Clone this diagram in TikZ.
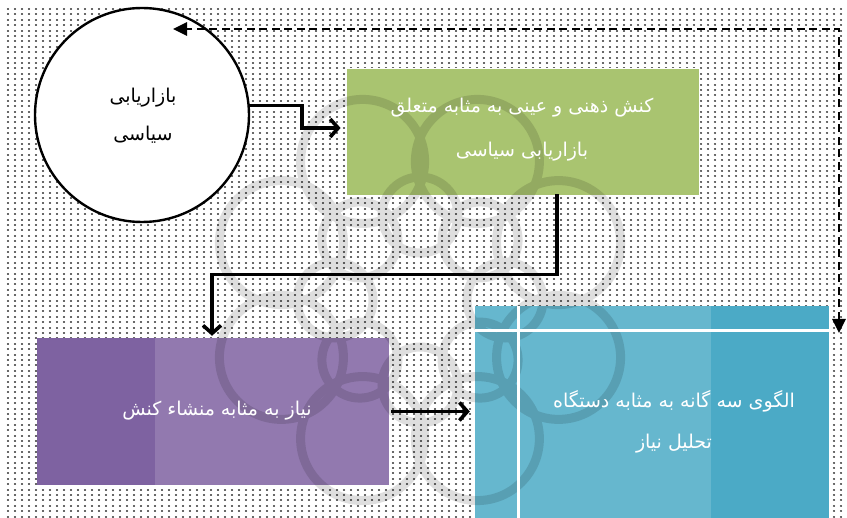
\documentclass[tikz,border=0pt]{standalone}
\usepackage{fontspec}
\newfontfamily\fa[Script=Arabic]{DejaVu Sans}
\TeXXeTstate=1
\usetikzlibrary{arrows.meta}
\definecolor{grn}{HTML}{A9C470}
\definecolor{purD}{HTML}{7E62A1}
\definecolor{purL}{HTML}{9279AF}
\definecolor{bluL}{HTML}{66B7CE}
\definecolor{bluD}{HTML}{4BAAC6}
\pgfdeclarelayer{fg}
\pgfsetlayers{main,fg}
\begin{document}
\begin{tikzpicture}[x=1pt,y=-1pt,
  box/.style={rectangle, inner sep=0pt, text=white, align=center},
  arr/.style={line width=3.6pt, black, -{Straight Barb[length=8pt,width=18pt]}, line cap=rect},
  fbarr/.style={line width=2.8pt, black, dash pattern=on 8pt off 4.5pt, {Triangle[length=14pt,width=13pt]}-{Triangle[length=14pt,width=13pt]}},
  wm/.style={line width=9pt, black},
  dotrow/.style={black!80, line width=2.1pt, line cap=round, dash pattern=on 0.01pt off 6.99pt}
]
\useasboundingbox (0,0) rectangle (847,518);
\fill[white] (0,0) rectangle (847,518);
\foreach \j in {0,...,94}
  \draw[dotrow] (8, 9+5.4*\j) -- (847, 9+5.4*\j);

% boxes
\node[box, fill=grn, draw=white, line width=0.8pt, minimum width=353pt, minimum height=127pt] (act) at (522.5,131.5) {};
\node[box, fill=purL, minimum width=352pt, minimum height=147pt] (need) at (213,411.5) {};
\fill[purD] (need.north west) rectangle ([xshift=118pt]need.south west);
\node[box, fill=bluL, minimum width=354pt, minimum height=212pt] (model) at (652,412) {};
\fill[bluD] ([xshift=-118pt]model.north east) rectangle (model.south east);

% circle
\node[circle, draw=black, line width=2.4pt, fill=white, minimum size=214pt, inner sep=0pt] (mkt) at (142,115) {};

% watermark
\begin{pgfonlayer}{fg}
\begin{scope}[transparency group, opacity=0.13]
\foreach \a in {22.5,67.5,...,337.5}
  \draw[wm, shift={(420,300)}] (\a:150) circle (62);
\foreach \a in {0,45,...,315}
  \draw[wm, shift={(420,300)}] (\a:85) circle (38);
\end{scope}
\draw[white, line width=3pt] (model.west |- 0,331) -- (model.east |- 0,331);
\draw[white, line width=3pt] (518,306) -- (518,518);
\end{pgfonlayer}

% texts
\begin{pgfonlayer}{fg}
\node[align=center, font=\fa\fontsize{19}{38}\selectfont, text=black] (mkttext) at (143,116)
  {\beginR بازاریابی\endR\\\beginR سیاسی\endR};
\node[align=center, font=\fa\fontsize{19}{44}\selectfont, text=white] (acttext) at (522,130)
  {\beginR کنش ذهنی و عینی به مثابه متعلق\endR\\\beginR بازاریابی سیاسی\endR};
\node[align=center, font=\fa\fontsize{19}{40}\selectfont, text=white] (needtext) at (217,411)
  {\beginR نیاز به مثابه منشاء کنش\endR};
\node[align=center, font=\fa\fontsize{19}{41}\selectfont, text=white] (modeltext) at (674,422)
  {\beginR الگوی سه گانه به مثابه دستگاه\endR\\\beginR تحلیل نیاز\endR};
\end{pgfonlayer}

% connectors
\coordinate (fbend) at (839,333);
\coordinate (fbstart) at (173,29);
\draw[arr, shorten >=5pt] (mkt.5) -- ++(52pt,0) |- ([yshift=3.5pt]act.west);
\draw[arr, shorten >=2pt] ([xshift=34.5pt]act.south) -- ++(0,-79pt) -| ([xshift=-1pt]need.north);
\draw[arr, shorten <=4pt, shorten >=5pt] (need.east) -- (need.east -| model.west);
\draw[fbarr] (fbend) |- (fbstart);
\end{tikzpicture}
\end{document}
